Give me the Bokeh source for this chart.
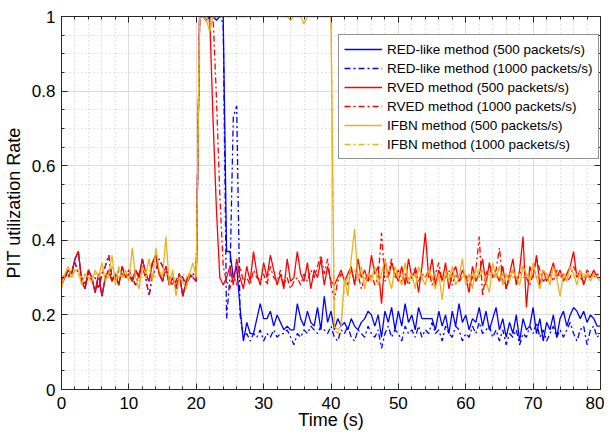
import numpy as np
from bokeh.plotting import figure
from bokeh.models import (SingleIntervalTicker, LinearAxis, Legend, LegendItem,
                          CustomJSTickFormatter, Range1d, CustomLabelingPolicy)
from bokeh.embed import file_html
from bokeh.resources import INLINE

# time axis (s), 0.5 s sampling
time_s = [i * 0.5 for i in range(161)]

red_like_500 = [
    0.28,0.30,0.32,0.31,0.35,0.37,0.29,0.27,0.32,0.30,
    0.26,0.31,0.25,0.30,0.32,0.29,0.31,0.28,0.33,0.30,
    0.31,0.29,0.32,0.30,0.35,0.31,0.29,0.34,0.36,0.31,
    0.29,0.33,0.28,0.30,0.27,0.31,0.25,0.29,0.31,0.30,
    0.29,1.00,1.00,0.99,1.00,1.00,0.99,1.00,1.00,0.37,
    0.37,0.30,0.33,0.22,0.13,0.18,0.15,0.15,0.19,0.23,
    0.19,0.19,0.21,0.17,0.20,0.18,0.16,0.17,0.16,0.16,
    0.23,0.19,0.17,0.21,0.18,0.17,0.22,0.16,0.25,0.18,
    0.21,0.16,0.19,0.17,0.18,0.16,0.19,0.17,0.16,0.18,
    0.19,0.21,0.20,0.17,0.20,0.14,0.21,0.18,0.22,0.16,
    0.21,0.17,0.23,0.18,0.20,0.16,0.22,0.19,0.19,0.19,
    0.19,0.16,0.21,0.17,0.20,0.15,0.21,0.17,0.23,0.18,
    0.20,0.16,0.19,0.18,0.22,0.17,0.21,0.16,0.19,0.22,
    0.16,0.19,0.14,0.18,0.15,0.20,0.13,0.19,0.16,0.17,
    0.22,0.15,0.19,0.13,0.18,0.16,0.20,0.14,0.19,0.21,
    0.17,0.20,0.22,0.21,0.19,0.21,0.18,0.20,0.19,0.17,
    0.17]

red_like_1000 = [
    0.29,0.31,0.30,0.32,0.34,0.31,0.30,0.28,0.31,0.29,
    0.30,0.27,0.31,0.33,0.36,0.30,0.29,0.32,0.31,0.30,
    0.32,0.30,0.28,0.31,0.33,0.30,0.25,0.31,0.32,0.35,
    0.33,0.31,0.30,0.28,0.29,0.31,0.30,0.28,0.30,0.31,
    0.30,1.00,1.00,0.99,1.00,1.00,1.00,1.00,0.98,0.19,
    0.30,0.73,0.76,0.20,0.14,0.15,0.13,0.15,0.14,0.16,
    0.13,0.15,0.14,0.16,0.14,0.15,0.15,0.16,0.14,0.12,
    0.15,0.14,0.16,0.15,0.17,0.16,0.15,0.17,0.16,0.15,
    0.17,0.14,0.13,0.16,0.15,0.17,0.14,0.13,0.16,0.15,
    0.14,0.17,0.15,0.14,0.16,0.11,0.15,0.17,0.14,0.16,
    0.15,0.13,0.17,0.15,0.16,0.14,0.17,0.14,0.16,0.15,
    0.18,0.15,0.16,0.13,0.17,0.15,0.14,0.17,0.16,0.13,
    0.15,0.14,0.17,0.15,0.18,0.15,0.16,0.17,0.14,0.16,
    0.13,0.16,0.12,0.15,0.14,0.16,0.12,0.15,0.14,0.17,
    0.15,0.18,0.14,0.16,0.13,0.15,0.17,0.14,0.16,0.14,
    0.16,0.18,0.15,0.13,0.16,0.17,0.12,0.16,0.17,0.14,
    0.15]

rved_500 = [
    0.28,0.30,0.32,0.31,0.35,0.37,0.29,0.27,0.32,0.30,
    0.26,0.31,0.25,0.30,0.32,0.29,0.31,0.28,0.33,0.30,
    0.31,0.29,0.32,0.30,0.35,0.31,0.29,0.34,0.36,0.31,
    0.29,0.33,0.28,0.30,0.27,0.31,0.25,0.29,0.31,0.30,
    0.29,1.00,1.00,1.00,1.00,0.72,0.48,0.30,0.28,0.30,
    0.33,0.28,0.35,0.30,0.27,0.33,0.29,0.37,0.31,0.28,
    0.34,0.30,0.36,0.32,0.28,0.31,0.27,0.35,0.29,0.30,
    0.37,0.31,0.29,0.34,0.27,0.32,0.30,0.35,0.28,0.33,
    0.29,0.28,0.30,0.32,0.29,0.31,0.33,0.28,0.35,0.30,
    0.32,0.29,0.36,0.31,0.33,0.23,0.35,0.30,0.34,0.31,
    0.29,0.33,0.28,0.35,0.30,0.32,0.26,0.33,0.42,0.30,
    0.35,0.28,0.32,0.29,0.34,0.27,0.31,0.33,0.29,0.32,
    0.30,0.26,0.33,0.29,0.31,0.35,0.28,0.34,0.30,0.31,
    0.29,0.33,0.27,0.31,0.35,0.28,0.32,0.41,0.22,0.33,
    0.30,0.36,0.28,0.32,0.29,0.31,0.34,0.30,0.32,0.29,
    0.31,0.33,0.37,0.30,0.32,0.28,0.31,0.30,0.32,0.30,
    0.30]

rved_1000 = [
    0.29,0.31,0.30,0.32,0.34,0.31,0.30,0.28,0.31,0.29,
    0.30,0.27,0.31,0.33,0.36,0.30,0.29,0.32,0.31,0.30,
    0.32,0.30,0.28,0.31,0.33,0.30,0.25,0.31,0.32,0.35,
    0.33,0.31,0.30,0.28,0.29,0.31,0.30,0.28,0.30,0.31,
    0.30,1.00,1.00,1.00,1.00,1.00,0.78,0.52,0.33,0.29,
    0.27,0.31,0.28,0.33,0.29,0.30,0.28,0.32,0.30,0.29,
    0.31,0.28,0.33,0.30,0.29,0.32,0.28,0.30,0.27,0.29,
    0.30,0.28,0.31,0.29,0.32,0.30,0.33,0.36,0.31,0.35,
    0.28,0.24,0.29,0.31,0.30,0.28,0.32,0.29,0.31,0.27,
    0.30,0.29,0.31,0.28,0.30,0.42,0.29,0.31,0.35,0.30,
    0.32,0.29,0.31,0.28,0.30,0.33,0.29,0.31,0.30,0.32,
    0.28,0.31,0.34,0.29,0.30,0.32,0.28,0.31,0.29,0.30,
    0.31,0.28,0.30,0.32,0.41,0.25,0.31,0.33,0.30,0.32,
    0.38,0.29,0.27,0.30,0.32,0.29,0.31,0.33,0.30,0.28,
    0.31,0.35,0.32,0.29,0.30,0.31,0.29,0.32,0.30,0.31,
    0.29,0.30,0.33,0.31,0.30,0.29,0.32,0.31,0.30,0.31,
    0.30]

ifbn_500 = [
    0.27,0.31,0.33,0.30,0.32,0.32,0.28,0.31,0.30,0.29,
    0.32,0.30,0.34,0.29,0.31,0.36,0.28,0.33,0.30,0.32,
    0.29,0.38,0.30,0.27,0.33,0.31,0.35,0.29,0.38,0.32,
    0.30,0.41,0.28,0.32,0.25,0.30,0.29,0.27,0.31,0.34,
    0.30,1.00,1.00,0.99,0.96,1.00,1.00,1.00,1.00,1.00,
    1.00,1.00,1.00,1.00,1.00,1.00,1.00,1.00,1.00,1.00,
    1.00,1.00,1.00,1.00,1.00,1.00,1.00,1.00,0.99,1.00,
    1.00,1.00,0.98,1.00,1.00,1.00,1.00,1.00,1.00,1.00,
    1.00,0.17,0.16,0.17,0.30,0.25,0.35,0.43,0.29,0.33,
    0.27,0.31,0.29,0.33,0.28,0.31,0.35,0.30,0.27,0.33,
    0.30,0.28,0.34,0.29,0.31,0.27,0.33,0.30,0.28,0.32,
    0.30,0.27,0.31,0.24,0.32,0.29,0.33,0.28,0.30,0.35,
    0.28,0.31,0.27,0.33,0.30,0.32,0.29,0.26,0.34,0.30,
    0.33,0.28,0.31,0.29,0.32,0.30,0.28,0.33,0.31,0.29,
    0.34,0.30,0.27,0.32,0.31,0.28,0.33,0.30,0.25,0.31,
    0.29,0.33,0.31,0.28,0.32,0.30,0.31,0.29,0.31,0.30,
    0.29]

ifbn_1000 = [
    0.29,0.30,0.31,0.30,0.32,0.31,0.30,0.31,0.30,0.30,
    0.31,0.30,0.32,0.31,0.30,0.33,0.31,0.30,0.31,0.30,
    0.30,0.31,0.30,0.29,0.31,0.30,0.32,0.31,0.30,0.31,
    0.31,0.32,0.30,0.31,0.29,0.30,0.31,0.30,0.31,0.30,
    0.31,1.00,1.00,1.00,0.98,1.00,1.00,1.00,1.00,1.00,
    1.00,1.00,1.00,1.00,1.00,1.00,1.00,1.00,1.00,1.00,
    1.00,1.00,1.00,1.00,1.00,1.00,1.00,1.00,1.00,1.00,
    1.00,1.00,1.00,1.00,1.00,1.00,1.00,1.00,1.00,1.00,
    1.00,0.16,0.15,0.18,0.28,0.30,0.31,0.32,0.30,0.31,
    0.30,0.31,0.30,0.32,0.31,0.30,0.31,0.32,0.31,0.30,
    0.31,0.30,0.31,0.30,0.29,0.31,0.30,0.31,0.30,0.31,
    0.30,0.31,0.30,0.29,0.30,0.31,0.30,0.31,0.30,0.30,
    0.31,0.30,0.31,0.30,0.32,0.31,0.30,0.31,0.30,0.31,
    0.30,0.31,0.30,0.31,0.30,0.30,0.31,0.30,0.31,0.30,
    0.31,0.30,0.31,0.30,0.31,0.30,0.31,0.30,0.31,0.31,
    0.30,0.31,0.30,0.31,0.30,0.31,0.30,0.31,0.31,0.30,
    0.30]

series_labels = [
    "RED-like method (500 packets/s)",
    "RED-like method (1000 packets/s)",
    "RVED method (500 packets/s)",
    "RVED method (1000 packets/s)",
    "IFBN method (500 packets/s)",
    "IFBN method (1000 packets/s)",
]

FONT = "Liberation Sans"
TXT = "#262626"

p = figure(width=604, height=432, output_backend="svg", toolbar_location=None,
           x_range=Range1d(0, 80), y_range=Range1d(0, 1),
           min_border_left=52, min_border_right=2, min_border_top=16,
           min_border_bottom=30)
p.outline_line_color = TXT
p.outline_line_width = 1
p.background_fill_color = "white"

xt = SingleIntervalTicker(interval=10, num_minor_ticks=5)
yt = SingleIntervalTicker(interval=0.2, num_minor_ticks=4)
fmt = CustomJSTickFormatter(code="return String(Number(tick.toFixed(2)));")

for ax in (p.xaxis[0], p.yaxis[0]):
    ax.major_tick_in = 6
    ax.major_tick_out = 0
    ax.minor_tick_in = 3
    ax.minor_tick_out = 0
    ax.axis_line_color = TXT
    ax.major_tick_line_color = TXT
    ax.minor_tick_line_color = TXT
    ax.major_label_text_font = FONT
    ax.major_label_text_font_size = "17px"
    ax.major_label_text_color = "black"
    ax.axis_label_text_font = FONT
    ax.axis_label_text_font_size = "18px"
    ax.axis_label_text_font_style = "normal"
    ax.axis_label_text_color = "black"
    ax.formatter = fmt
p.xaxis[0].ticker = xt
p.yaxis[0].ticker = yt
p.xaxis[0].axis_label = "Time (s)"
p.yaxis[0].axis_label = "PIT utilization Rate"
p.xaxis[0].major_label_standoff = 7
p.xaxis[0].axis_label_standoff = -2
p.yaxis[0].major_label_standoff = 6
p.yaxis[0].axis_label_standoff = 5

hide_all = CustomLabelingPolicy(code="for (const i of indices) { indices.unset(i) }")
top_ax = LinearAxis(ticker=SingleIntervalTicker(interval=10, num_minor_ticks=5))
right_ax = LinearAxis(ticker=SingleIntervalTicker(interval=0.2, num_minor_ticks=4))
for ax in (top_ax, right_ax):
    ax.major_tick_in = 6
    ax.major_tick_out = 0
    ax.minor_tick_in = 3
    ax.minor_tick_out = 0
    ax.axis_line_color = TXT
    ax.major_tick_line_color = TXT
    ax.minor_tick_line_color = TXT
    ax.major_label_policy = hide_all
    ax.major_label_text_font_size = "1px"
    ax.major_label_standoff = 0
p.add_layout(top_ax, "above")
p.add_layout(right_ax, "right")

p.xgrid[0].ticker = xt
p.ygrid[0].ticker = yt
for g in (p.xgrid[0], p.ygrid[0]):
    g.grid_line_color = "#dcdcdc"
    g.grid_line_width = 1
    g.minor_grid_line_color = "#c8c8c8"
    g.minor_grid_line_dash = "1 3"
    g.minor_grid_line_width = 1

colors = ["#0000FF", "#0000FF", "#FF0000", "#FF0000", "#EDB120", "#EDB120"]
dashes = ["solid", "dashdot", "solid", "dashdot", "solid", "dashdot"]
data = [red_like_500, red_like_1000, rved_500, rved_1000, ifbn_500, ifbn_1000]

items = []
for lab, ys, c, d in zip(series_labels, data, colors, dashes):
    dash = "solid" if d == "solid" else "6 3 2 3"
    r = p.line(time_s, ys, line_color=c, line_width=1.3, line_dash=dash)
    items.append(LegendItem(label=lab, renderers=[r]))

legend = Legend(items=items, location=(277, 230))
legend.label_text_font = FONT
legend.label_text_font_size = "13.5px"
legend.label_text_color = "black"
legend.glyph_width = 38
legend.glyph_height = 18
legend.label_height = 18
legend.spacing = 1
legend.label_standoff = 5
legend.padding = 5
legend.margin = 0
legend.border_line_color = TXT
legend.border_line_width = 1
legend.background_fill_color = "white"
legend.background_fill_alpha = 1
p.add_layout(legend, "center")

open("out.html", "w").write(file_html(p, INLINE))
